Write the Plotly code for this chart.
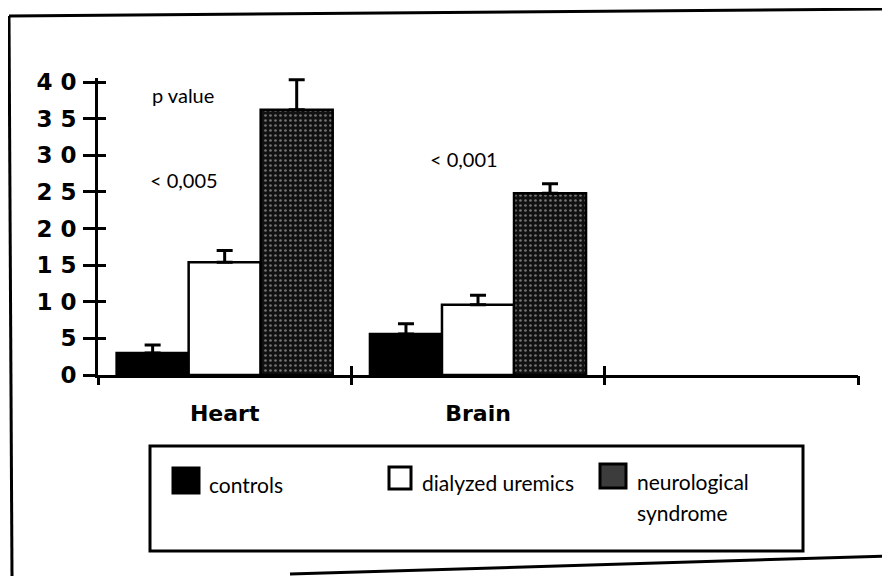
import plotly.graph_objects as go

# data
categories = ["Heart", "Brain"]
series_names = ["controls", "dialyzed uremics", "neurological syndrome"]
controls = [3.0, 5.6]
controls_err = [1.1, 1.4]
uremics = [15.4, 9.6]
uremics_err = [1.6, 1.3]
neuro = [36.2, 24.8]
neuro_err = [4.1, 1.3]
y_ticks = [0, 5, 10, 15, 20, 25, 30, 35, 40]
y_labels = ["0", "5", "1 0", "1 5", "2 0", "2 5", "3 0", "3 5", "4 0"]
p_title = "p value"
p_values = ["< 0,005", "< 0,001"]

# the page body adds an 8px margin, so the figure is a bit smaller
OFF = 8
W, H = 890 - OFF, 576 - OFF
# a little head room above 40 so the tallest error cap is not clipped
Y_TOP = 40.55
L, R, T, B = 98 - OFF, 32, 78 - OFF, 201
PW, PH = W - L - R, H - T - B
x_range = [-0.5, len(categories) + 0.5]
boundaries = [i - 0.5 for i in range(len(categories) + 2)]


def px(x):
    # reference image pixel -> paper x
    return (x - OFF - L) / PW


def py(y):
    # reference image pixel -> paper y
    return (H - B - (y - OFF)) / PH


ERR = dict(type="data", symmetric=False, color="black", thickness=3, width=8)
OUTLINE = dict(color="black", width=2.5)

fig = go.Figure()

fig.add_trace(go.Bar(
    x=categories, y=controls, name=series_names[0],
    marker=dict(color="black", line=OUTLINE),
    error_y=dict(ERR, array=controls_err, arrayminus=[0] * len(controls)),
))
fig.add_trace(go.Bar(
    x=categories, y=uremics, name=series_names[1],
    marker=dict(color="white", line=OUTLINE),
    error_y=dict(ERR, array=uremics_err, arrayminus=[0] * len(uremics)),
))
fig.add_trace(go.Bar(
    x=categories, y=neuro, name=series_names[2],
    marker=dict(
        color="#111111", line=OUTLINE,
        pattern=dict(shape=".", bgcolor="#111111", fgcolor="#d8d8d8",
                     size=5, solidity=0.22),
    ),
    error_y=dict(ERR, array=neuro_err, arrayminus=[0] * len(neuro)),
))

# empty helper traces so the overlay axes (crossing tick marks) get drawn
for xa, ya in [("x2", "y"), ("x3", "y"), ("x", "y2")]:
    fig.add_trace(go.Scatter(x=[None], y=[None], xaxis=xa, yaxis=ya,
                             mode="markers", showlegend=False, hoverinfo="skip"))

tick_axis = dict(showticklabels=False, showline=False, showgrid=False,
                 zeroline=False, tickwidth=3, tickcolor="black")

fig.update_layout(
    width=W, height=H,
    margin=dict(l=L, r=R, t=T, b=B, pad=0),
    paper_bgcolor="white", plot_bgcolor="white",
    showlegend=False,
    barmode="group", bargap=0.147, bargroupgap=0,
    font=dict(family="DejaVu Sans", color="black"),
    xaxis=dict(
        type="category", range=x_range,
        ticks="", showline=True, linewidth=3, linecolor="black",
        showgrid=False, zeroline=False, ticklabelstandoff=17,
        tickfont=dict(family="DejaVu Sans", size=22, weight="bold", color="black"),
    ),
    xaxis2=dict(tick_axis, overlaying="x", anchor="y", range=x_range,
                tickvals=boundaries, ticks="outside", ticklen=9),
    xaxis3=dict(tick_axis, overlaying="x", anchor="y", range=x_range,
                tickvals=boundaries[1:], ticks="inside", ticklen=9),
    yaxis=dict(
        range=[0, Y_TOP], tickmode="array", tickvals=y_ticks, ticktext=y_labels,
        ticks="outside", ticklen=12, tickwidth=3, tickcolor="black",
        showline=True, linewidth=3, linecolor="black",
        showgrid=False, zeroline=False, ticklabelstandoff=2,
        tickfont=dict(family="DejaVu Sans", size=23, weight="bold", color="black"),
    ),
    yaxis2=dict(tick_axis, overlaying="y", anchor="x", side="left",
                range=[0, Y_TOP], tickvals=y_ticks, ticks="inside", ticklen=8),
)

# p value notes
txt = dict(family="Lato", size=20, color="black")
notes = [(p_title, 150, 95), (p_values[0], 148, 180), (p_values[1], 428, 159)]
for text, x, y in notes:
    fig.add_annotation(text=text, x=px(x), y=py(y), xref="paper", yref="paper",
                       xanchor="left", yanchor="middle", showarrow=False, font=txt)

# hand-drawn legend box
leg = dict(family="Lato", size=21, color="black")
fig.add_shape(type="rect", xref="paper", yref="paper",
              x0=px(150), x1=px(803), y0=py(446), y1=py(551),
              line=dict(color="black", width=3))
swatches = [(173, 468, 199, 493, "black"), (389, 467, 411, 489, "white"),
            (600, 464, 626, 488, "#3c3c3c")]
for x0, y0, x1, y1, fill in swatches:
    fig.add_shape(type="rect", xref="paper", yref="paper",
                  x0=px(x0), x1=px(x1), y0=py(y0), y1=py(y1),
                  fillcolor=fill, line=dict(color="black", width=3))
legend_text = [(series_names[0], 207, 485), (series_names[1], 420, 482),
               ("neurological", 635, 481), ("syndrome", 635, 512)]
for text, x, y in legend_text:
    fig.add_annotation(text=text, x=px(x), y=py(y), xref="paper", yref="paper",
                       xanchor="left", yanchor="middle", showarrow=False, font=leg)

# outer frame of the scanned page
frame = [(9, 16, 12, 576), (9, 16, 890, 9), (290, 574, 890, 556)]
for x0, y0, x1, y1 in frame:
    fig.add_shape(type="line", xref="paper", yref="paper",
                  x0=px(x0), x1=px(x1), y0=py(y0), y1=py(y1),
                  line=dict(color="black", width=3))

fig.write_html("out.html")
